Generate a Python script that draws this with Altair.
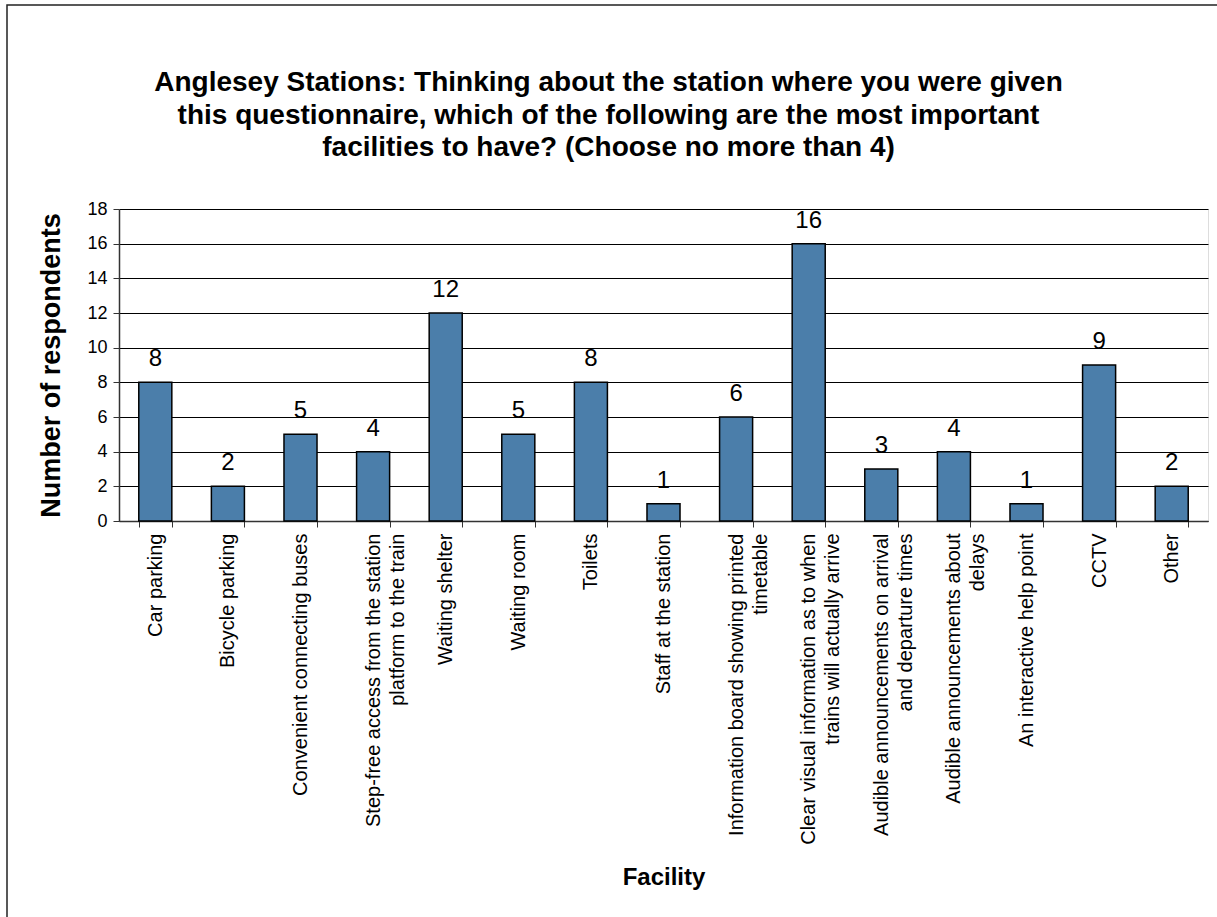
import altair as alt
import pandas as pd

categories = [
    "Car parking",
    "Bicycle parking",
    "Convenient connecting buses",
    "Step-free access from the station|platform to the train",
    "Waiting shelter",
    "Waiting room",
    "Toilets",
    "Staff at the station",
    "Information board showing printed|timetable",
    "Clear visual information as to when|trains will actually arrive",
    "Audible announcements on arrival|and departure times",
    "Audible announcements about|delays",
    "An interactive help point",
    "CCTV",
    "Other",
]
values = [8, 2, 5, 4, 12, 5, 8, 1, 6, 16, 3, 4, 1, 9, 2]

title_lines = [
    "Anglesey Stations: Thinking about the station where you were given",
    "this questionnaire, which of the following are the most important",
    "facilities to have? (Choose no more than 4)",
]
y_ticks = [0, 2, 4, 6, 8, 10, 12, 14, 16, 18]

df = pd.DataFrame({"Facility": categories, "Count": values})
FONT = "Liberation Sans"

W, H = 1089, 312

x_enc = alt.X(
    "Facility:N",
    sort=categories,
    scale=alt.Scale(paddingInner=0.545, paddingOuter=0.2725),
    axis=alt.Axis(
        title="Facility",
        labelAngle=-90,
        labelExpr="split(datum.label, '|')",
        labelFontSize=20,
        labelLineHeight=24,
        labelFont=FONT,
        labelColor="black",
        labelPadding=6,
        labelLimit=0,
        labelOverlap=False,
        tickBand="extent",
        tickSize=6,
        tickColor="#333333",
        domainColor="#333333",
        domainWidth=1.5,
        titleFontSize=24,
        titleFont=FONT,
        titleFontWeight="bold",
        titleColor="black",
        titleY=356,
        titleBaseline="middle",
    ),
)
y_enc = alt.Y(
    "Count:Q",
    scale=alt.Scale(domain=[0, 18], nice=False),
    axis=alt.Axis(
        title="Number of respondents",
        values=y_ticks,
        labelOverlap=False,
        labelFontSize=18,
        labelFont=FONT,
        labelColor="black",
        labelPadding=6,
        tickSize=6,
        tickColor="#333333",
        domainColor="#333333",
        domainWidth=1.5,
        grid=True,
        gridColor="#000000",
        gridWidth=1,
        titleFontSize=27,
        titleFont=FONT,
        titleFontWeight="bold",
        titleColor="black",
        titlePadding=21,
    ),
)

frame = alt.Chart(pd.DataFrame({"f": [0]})).mark_rect(
    fill=None, stroke="#222222", strokeWidth=1.5
).encode(
    x=alt.value(-112), x2=alt.value(1110), y=alt.value(-204), y2=alt.value(720)
)

base = alt.Chart(df).encode(x=x_enc, y=y_enc)

bars = base.mark_bar(color="#4B7EAA", stroke="black", strokeWidth=1.5)

labels = base.mark_text(
    fontSize=24, font=FONT, color="black", baseline="alphabetic", dy=-16
).encode(text="Count:Q")

chart = alt.layer(frame, bars, labels).properties(
    width=W,
    height=H,
    autosize=alt.AutoSizeParams(type="none"),
    padding={"left": 119, "top": 209, "right": 9, "bottom": 396},
    title=alt.TitleParams(
        text=title_lines,
        fontSize=28,
        font=FONT,
        fontWeight="bold",
        color="black",
        lineHeight=32.5,
        anchor="middle",
        frame="group",
        dx=-55,
        offset=-158,
    ),
).configure_view(
    fill="#C0C0C0", stroke="#808080", strokeWidth=1.5
).configure(background="white")

chart.save("out.html", embed_options={"renderer": "svg", "actions": False})
